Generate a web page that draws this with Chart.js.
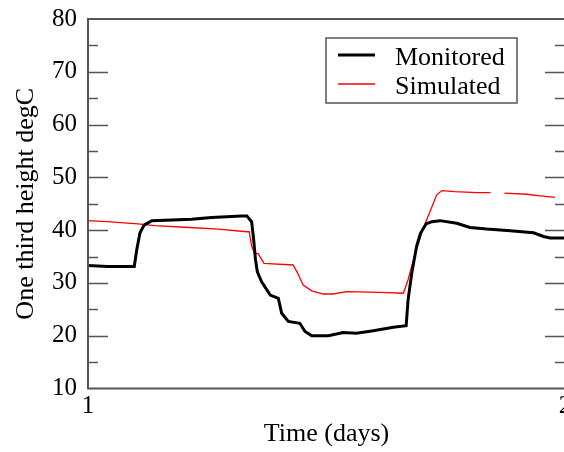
<!DOCTYPE html>
<html>
<head>
<meta charset="utf-8">
<script src="https://cdn.jsdelivr.net/npm/chart.js@4/dist/chart.umd.min.js"></script>
<style>
  html, body { margin: 0; padding: 0; background: #fff; overflow: hidden; }
  canvas { display: block; }
</style>
</head>
<body>
<canvas id="chart" width="572" height="452"></canvas>
<script>
// data
const monitoredDays = [1.000, 1.041, 1.097, 1.102, 1.109, 1.118, 1.134, 1.217, 1.259, 1.322, 1.333, 1.343, 1.347, 1.351, 1.355, 1.364, 1.382, 1.399, 1.406, 1.420, 1.444, 1.455, 1.469, 1.504, 1.535, 1.563, 1.598, 1.640, 1.667, 1.671, 1.679, 1.689, 1.697, 1.709, 1.721, 1.738, 1.773, 1.801, 1.836, 1.885, 1.934, 1.955, 1.969, 2.000];
const monitoredTemps = [33.3, 33.1, 33.1, 36.2, 39.5, 41.0, 41.8, 42.05, 42.4, 42.7, 42.7, 41.6, 38.5, 34.5, 32.1, 30.2, 27.7, 27.1, 24.25, 22.7, 22.35, 20.8, 20.0, 20.0, 20.6, 20.45, 20.95, 21.6, 21.9, 26.8, 32.0, 37.0, 39.4, 41.2, 41.6, 41.8, 41.3, 40.5, 40.2, 39.9, 39.5, 38.8, 38.5, 38.5];

const simulatedDays = [1.000, 1.039, 1.105, 1.140, 1.203, 1.273, 1.333, 1.338, 1.343, 1.349, 1.357, 1.369, 1.430, 1.438, 1.451, 1.469, 1.493, 1.514, 1.542, 1.612, 1.661, 1.671, 1.686, 1.703, 1.721, 1.731, 1.742, 1.769, 1.815, 1.844, 1.858, 1.873, 1.920, 1.948, 1.979];
const simulatedTemps = [41.8, 41.6, 41.2, 40.85, 40.55, 40.2, 39.7, 39.7, 37.0, 35.7, 35.5, 33.7, 33.4, 32.1, 29.6, 28.5, 27.9, 27.9, 28.35, 28.2, 28.05, 30.6, 35.6, 40.4, 44.45, 46.7, 47.5, 47.3, 47.1, 47.1, null, 47.0, 46.8, 46.5, 46.2];

const seriesLabels = ["Monitored", "Simulated"];
const seriesColors = ["#000000", "#ff0000"];

const serif = '"Liberation Serif", "DejaVu Serif", serif';
const frameColor = "#555555";

function toPoints(xs, ys) {
  return xs.map((x, i) => ({ x: x, y: ys[i] }));
}

// frame + inward ticks like the original plot
const framePlugin = {
  id: "frame",
  afterDatasetsDraw(chart) {
    const { ctx, chartArea: a } = chart;
    const y = chart.scales.y;
    ctx.save();
    ctx.strokeStyle = frameColor;
    ctx.lineWidth = 1.5;
    for (let v = 15; v < 80; v += 5) {
      const py = Math.round(y.getPixelForValue(v)) + 0.5;
      const len = v % 10 === 0 ? 20 : 10;
      ctx.beginPath();
      ctx.moveTo(a.left, py);
      ctx.lineTo(a.left + len, py);
      ctx.moveTo(a.right, py);
      ctx.lineTo(a.right - len, py);
      ctx.stroke();
    }
    ctx.lineWidth = 2;
    ctx.strokeRect(a.left, a.top, a.right - a.left, a.bottom - a.top);
    ctx.restore();
  }
};

// legend box inside the plot, top right
const legendPlugin = {
  id: "boxLegend",
  afterDraw(chart) {
    const ctx = chart.ctx;
    ctx.save();
    ctx.fillStyle = "#fff";
    ctx.fillRect(326, 38, 191, 65);
    ctx.strokeStyle = frameColor;
    ctx.lineWidth = 1.5;
    ctx.strokeRect(326, 38, 191, 65);
    ctx.font = "26px " + serif;
    ctx.textBaseline = "alphabetic";
    ctx.textAlign = "left";
    chart.data.datasets.forEach((ds, i) => {
      const ly = 55 + i * 29;
      ctx.strokeStyle = ds.borderColor;
      ctx.lineWidth = ds.borderWidth;
      ctx.beginPath();
      ctx.moveTo(338, ly);
      ctx.lineTo(375, ly);
      ctx.stroke();
      ctx.fillStyle = "#000";
      ctx.fillText(ds.label, 395, ly + 9.5);
    });
    ctx.restore();
  }
};

new Chart(document.getElementById("chart"), {
  type: "line",
  data: {
    datasets: [
      {
        label: seriesLabels[0],
        data: toPoints(monitoredDays, monitoredTemps),
        borderColor: seriesColors[0],
        borderWidth: 3,
        pointRadius: 0,
        tension: 0
      },
      {
        label: seriesLabels[1],
        data: toPoints(simulatedDays, simulatedTemps),
        borderColor: seriesColors[1],
        borderWidth: 1.3,
        pointRadius: 0,
        tension: 0,
        spanGaps: false
      }
    ]
  },
  options: {
    responsive: false,
    animation: false,
    layout: { padding: { left: 0, top: 19, right: 7, bottom: 0 } },
    plugins: {
      legend: { display: false },
      tooltip: { enabled: false }
    },
    scales: {
      x: {
        type: "linear",
        min: 1,
        max: 2,
        afterFit(scale) {
          scale.height = 63.5;
          scale.paddingLeft = 0;
          scale.paddingRight = 0;
        },
        ticks: {
          stepSize: 1,
          maxRotation: 0,
          padding: 3,
          color: "#000",
          font: { family: serif, size: 25 }
        },
        grid: { display: false, drawTicks: false },
        border: { display: false },
        title: {
          display: true,
          text: "Time (days)",
          color: "#000",
          font: { family: serif, size: 26 },
          padding: { top: 0, bottom: 2 }
        }
      },
      y: {
        min: 10,
        max: 80,
        afterFit(scale) {
          scale.width = 88;
          scale.paddingTop = 0;
          scale.paddingBottom = 0;
        },
        ticks: {
          stepSize: 10,
          padding: 11,
          color: "#000",
          font: { family: serif, size: 25 }
        },
        grid: { display: false, drawTicks: false },
        border: { display: false },
        title: {
          display: true,
          text: "One third height degC",
          color: "#000",
          font: { family: serif, size: 26 },
          padding: { top: 11, bottom: 0 }
        }
      }
    }
  },
  plugins: [framePlugin, legendPlugin]
});
</script>
</body>
</html>
